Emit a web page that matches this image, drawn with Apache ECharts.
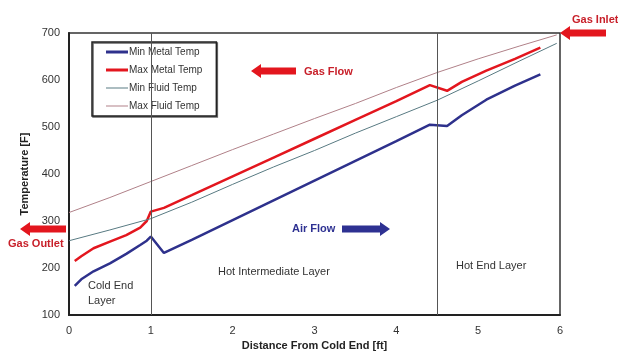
<!DOCTYPE html>
<html>
<head>
<meta charset="utf-8">
<script src="https://cdn.jsdelivr.net/npm/echarts@6/dist/echarts.min.js"></script>
<style>
  html, body { margin: 0; padding: 0; background: #fff; }
  #chart { width: 618px; height: 358px; }
</style>
</head>
<body>
<div id="chart"></div>
<script>
// distance along the heater [ft]
const metalX = [0.07, 0.15, 0.3, 0.5, 0.7, 0.87, 0.95, 1.0, 1.16, 1.5, 2, 2.5, 3, 3.5, 4, 4.41, 4.62, 4.8, 5.1, 5.45, 5.76];
const minMetal = [162, 176, 193, 210, 230, 249, 258, 267, 232, 260, 302, 344, 386, 428, 470, 505, 502, 525, 558, 588, 612];
const maxMetal = [215, 225, 242, 256, 270, 286, 300, 320, 328, 355, 395, 435, 475, 515, 555, 589, 577, 596, 620, 645, 669];

const fluidX = [0, 0.5, 1, 1.5, 2, 2.5, 3, 3.5, 4, 4.5, 5, 5.5, 5.96];
const minFluid = [258, 281, 305, 340, 378, 415, 450, 487, 522, 557, 598, 640, 678];
const maxFluid = [318, 350, 384, 418, 452, 485, 518, 550, 584, 616, 645, 672, 696];

const layerBounds = [1, 4.5];

const FONT = 'Liberation Sans';
const THICK = 'path://M0 0H22V3H0Z';
const THIN = 'path://M0 0H22V1H0Z';

function pairs(xs, ys) {
    return xs.map((x, i) => [x, ys[i]]);
}

// block arrow, dir -1 = points left, 1 = points right
function arrow(hx, cy, len, dir, color) {
    const h = 10, bh = 3.5, hh = 7;
    const p = (dx, dy) => [hx - dir * dx, cy + dy];
    return {
        type: 'polygon',
        shape: {
            points: [p(0, 0), p(h, -hh), p(h, -bh), p(len, -bh), p(len, bh), p(h, bh), p(h, hh)]
        },
        style: { fill: color },
        z: 10
    };
}

function label(text, x, y, color, bold) {
    return {
        type: 'text',
        x: x,
        y: y,
        style: {
            text: text,
            fill: color,
            font: (bold ? 'bold ' : '') + '11px "' + FONT + '"',
            verticalAlign: 'middle',
            lineHeight: 15
        },
        z: 10
    };
}

const chart = echarts.init(document.getElementById('chart'));

const option = {
    animation: false,
    textStyle: { fontFamily: FONT },
    grid: {
        left: 69, right: 58, top: 33, bottom: 43,
        show: true,
        borderColor: '#333',
        borderWidth: 1.5
    },
    xAxis: {
        type: 'value',
        min: 0, max: 6, interval: 1,
        name: 'Distance From Cold End [ft]',
        nameLocation: 'middle',
        nameGap: 20,
        nameTextStyle: { fontWeight: 'bold', fontSize: 11, color: '#222' },
        axisLine: { lineStyle: { color: '#222', width: 2 } },
        axisTick: { show: false },
        axisLabel: { fontSize: 11, color: '#333', margin: 10 },
        splitLine: { show: false }
    },
    yAxis: {
        type: 'value',
        min: 100, max: 700, interval: 100,
        name: 'Temperature [F]',
        nameLocation: 'middle',
        nameGap: 36,
        nameTextStyle: { fontWeight: 'bold', fontSize: 11, color: '#222' },
        axisLine: { show: true, lineStyle: { color: '#222', width: 2 } },
        axisTick: { show: false },
        axisLabel: { fontSize: 11, color: '#333', margin: 9 },
        splitLine: { show: false }
    },
    legend: {
        orient: 'vertical',
        left: 92, top: 42,
        padding: [5, 14, 5, 14],
        itemGap: 8,
        itemWidth: 22,
        itemHeight: 10,
        backgroundColor: '#fff',
        borderColor: '#222',
        borderWidth: 1.5,
        shadowColor: '#666',
        shadowOffsetX: 1,
        shadowOffsetY: 1,
        textStyle: { fontSize: 10, color: '#333', padding: [0, 0, 0, -4] },
        data: [
            { name: 'Min Metal Temp', icon: THICK },
            { name: 'Max Metal Temp', icon: THICK },
            { name: 'Min Fluid Temp', icon: THIN },
            { name: 'Max Fluid Temp', icon: THIN }
        ]
    },
    series: [
        {
            name: 'Min Metal Temp',
            type: 'line',
            data: pairs(metalX, minMetal),
            symbol: 'none',
            lineStyle: { color: '#2e318c', width: 2.5 },
            itemStyle: { color: '#2e318c' },
            markLine: {
                silent: true,
                symbol: 'none',
                label: { show: false },
                lineStyle: { color: '#555', width: 1, type: 'solid' },
                data: layerBounds.map(v => ({ xAxis: v }))
            }
        },
        {
            name: 'Max Metal Temp',
            type: 'line',
            data: pairs(metalX, maxMetal),
            symbol: 'none',
            lineStyle: { color: '#e3161e', width: 2.5 },
            itemStyle: { color: '#e3161e' }
        },
        {
            name: 'Min Fluid Temp',
            type: 'line',
            data: pairs(fluidX, minFluid),
            symbol: 'none',
            lineStyle: { color: '#587a82', width: 1 },
            itemStyle: { color: '#587a82' }
        },
        {
            name: 'Max Fluid Temp',
            type: 'line',
            data: pairs(fluidX, maxFluid),
            symbol: 'none',
            lineStyle: { color: '#b08088', width: 1 },
            itemStyle: { color: '#b08088' }
        }
    ],
    graphic: [
        label('Gas Flow', 304, 72, '#c8202a', true),
        arrow(251, 71, 45, -1, '#e3161e'),
        label('Air Flow', 292, 229, '#2e3192', true),
        arrow(390, 229, 48, 1, '#2e3192'),
        label('Gas Inlet', 572, 20, '#c8202a', true),
        arrow(560, 33, 46, -1, '#e3161e'),
        label('Gas Outlet', 8, 244, '#c8202a', true),
        arrow(20, 229, 46, -1, '#e3161e'),
        label('Cold End\nLayer', 88, 293, '#333', false),
        label('Hot Intermediate Layer', 218, 272, '#333', false),
        label('Hot End Layer', 456, 266, '#333', false)
    ]
};

chart.setOption(option);
</script>
</body>
</html>
